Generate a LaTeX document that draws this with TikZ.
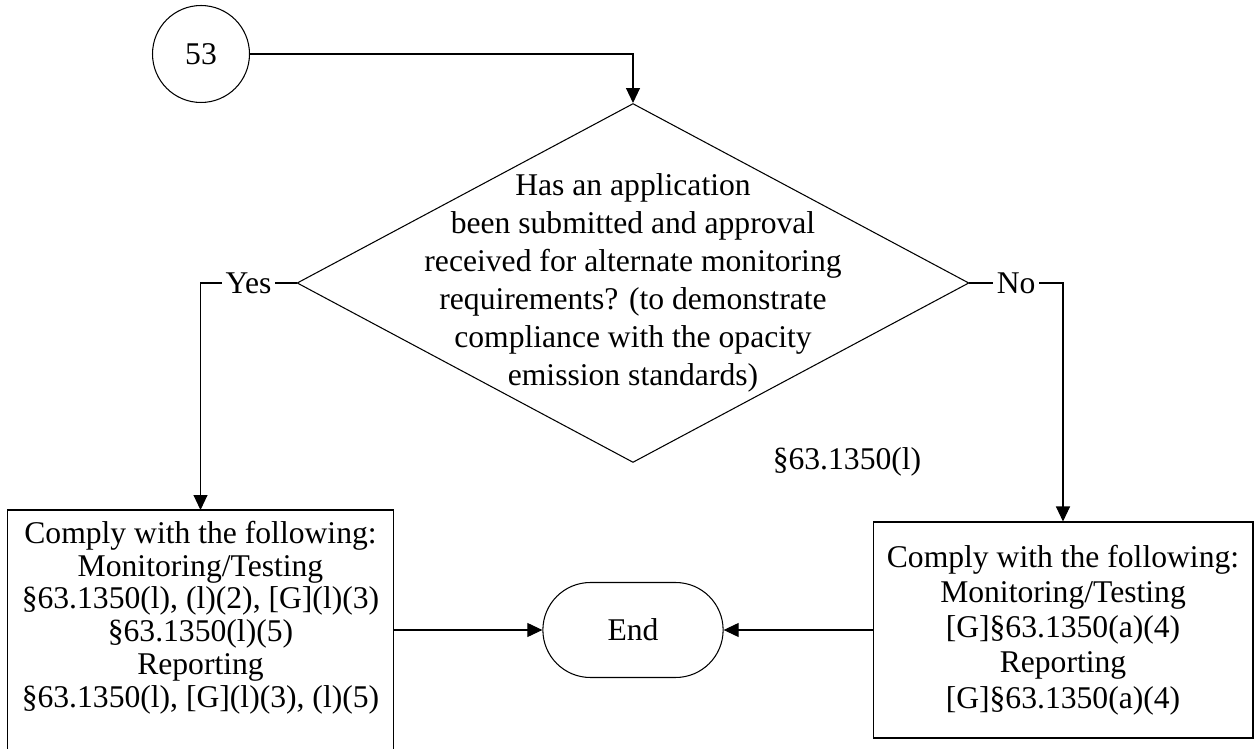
\documentclass[tikz,border=0pt]{standalone}
\usepackage{fontspec}
\setmainfont{Liberation Serif}
\usepackage{tikz}
\usetikzlibrary{shapes.geometric,shapes.misc,arrows.meta,positioning}
\tikzset{
page_ref/.style={circle, draw, line width=0.6pt, minimum size=1.94cm, inner sep=0},
decision/.style={diamond, draw, line width=0.6pt, minimum width=13.44cm, minimum height=7.18cm, inner sep=0},
question/.style={align=center, font=\fontsize{18}{21.6}\selectfont},
comply_text/.style={rectangle, align=center, inner xsep=0.15cm, inner ysep=0.22cm, font=\fontsize{18}{18.6}\selectfont},
comply_box/.style={comply_text, draw, line width=0.6pt, minimum width=7.6cm, minimum height=4.32cm, font=\fontsize{18}{20}\selectfont},
terminal/.style={rounded rectangle, draw, line width=0.6pt, minimum width=3.84cm, minimum height=1.9cm},
answer/.style={fill=white, inner xsep=2pt, inner ysep=1pt},
flow/.style={-{Triangle[length=0.3cm, width=0.28cm]}, line width=0.6pt}
}

\begin{document}
\begin{tikzpicture}[x=0.02cm, y=-0.02cm, font=\fontsize{18}{18.6}\selectfont]
    \useasboundingbox (0,0) rectangle (1255,749);
    \node[page_ref] (ref_53) at (201,54) {53};
    \node[decision] (approval) at (633,283) {};
    \node[question] (approval_txt) at (633,283) {Has an application\\been submitted and approval\\received for alternate monitoring\\requirements? (to demonstrate\\compliance with the opacity\\emission standards)};
    \node (citation) at (847,462) {§63.1350(l)};
    \node[comply_text, anchor=north, minimum width=7.7cm] (comply_yes) at (200.5,510) {Comply with the following:\\Monitoring/Testing\\§63.1350(l), (l)(2), [G](l)(3)\\§63.1350(l)(5)\\Reporting\\§63.1350(l), [G](l)(3), (l)(5)};
    \draw[line width=0.6pt] ([yshift=-2cm]comply_yes.south west) -- (comply_yes.north west) -- (comply_yes.north east) -- ([yshift=-2cm]comply_yes.south east);
    \node[comply_box] (comply_no) at (1063,630) {Comply with the following:\\Monitoring/Testing\\{[G]}§63.1350(a)(4)\\Reporting\\{[G]}§63.1350(a)(4)};
    \node[terminal] (end_node) at (633,630) {End};
    \draw[flow] (ref_53) -| (approval.north);
    \draw[flow] (approval.west) -| node[answer, pos=0.25] {Yes} (comply_yes.north);
    \draw[flow] (approval.east) -| node[answer, pos=0.25] {No} (comply_no.north);
    \draw[flow] (end_node.west -| comply_yes.east) -- (end_node.west);
    \draw[flow] (comply_no.west) -- (end_node.east);
\end{tikzpicture}
\end{document}
